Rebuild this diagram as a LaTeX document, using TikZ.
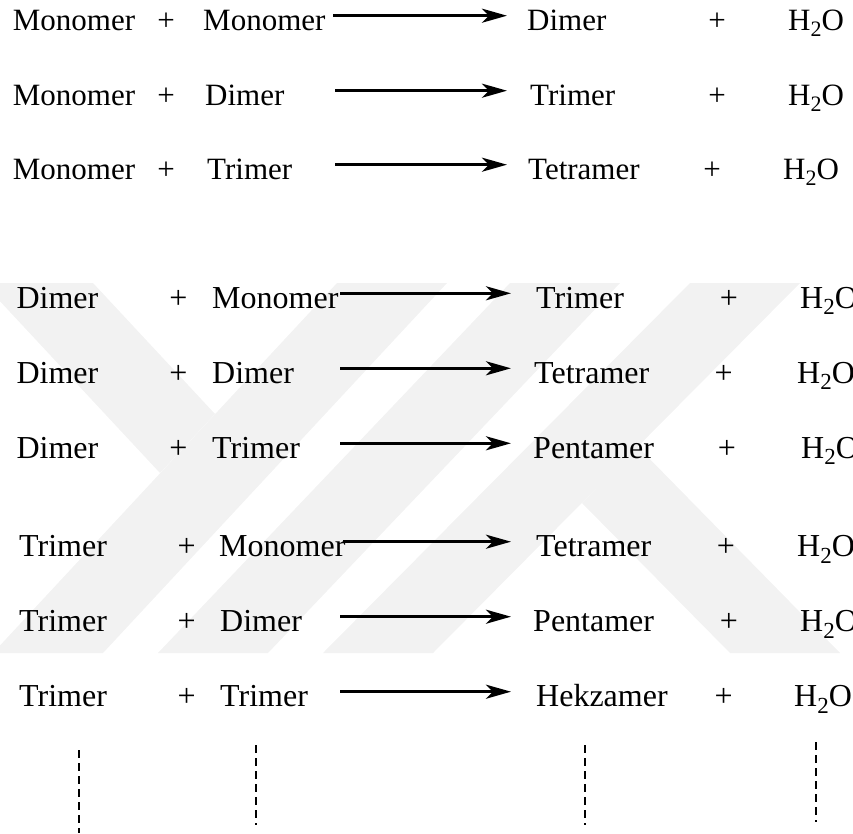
\documentclass[tikz,border=0pt]{standalone}
\usepackage{fontspec}
\setmainfont{Liberation Serif}
\usetikzlibrary{arrows.meta}

% water with a lowered subscript, in the two text sizes
\newcommand\waterTop{H\raisebox{-6pt}{\fontsize{22}{24}\selectfont 2}O}
\newcommand\waterLow{H\raisebox{-6.5pt}{\fontsize{23}{24}\selectfont 2}O}

\tikzset{
  toptext/.style={font=\fontsize{31}{34}\selectfont, inner sep=0pt, anchor=base west},
  lowtext/.style={font=\fontsize{32}{36}\selectfont, inner sep=0pt, anchor=base west},
  plus/.style={anchor=base},
  react/.style={line width=3.2pt, -{Stealth[length=25pt, width=14pt, inset=7pt]}},
  dots/.style={line width=1.6pt, dash pattern=on 8pt off 5pt},
  band/.style={fill=black!5, draw=none},
}

\begin{document}
\begin{tikzpicture}[x=1pt, y=-1pt]
\useasboundingbox (0,0) rectangle (853,834);
\clip (0,0) rectangle (853,834);

% faint background emblem made of slanted bands
\fill[band] (-17,283) -- (93,283) -- (215,414) -- (160,473) -- cycle;
\fill[band] (337,283) -- (447,283) -- (103,653) -- (-7,653) -- cycle;
\fill[band] (510,283) -- (620,283) -- (268,653) -- (158,653) -- cycle;
\fill[band] (690,283) -- (800,283) -- (433,653) -- (323,653) -- cycle;
\fill[band] (582,503) -- (637,446) -- (840,653) -- (730,653) -- cycle;

% first block: monomer additions
\foreach \i/\y/\A/\pa/\bx/\B/\as/\cx/\C/\pb/\wx in {
  1/31/Monomer/166/203/Monomer/333/527/Dimer/717/788,
  2/106/Monomer/166/205/Dimer/335/530/Trimer/717/788,
  3/180/Monomer/166/207/Trimer/335/528/Tetramer/712/783}{
  \node[toptext] (a\i) at (12.7,\y) {\A};
  \node[toptext, plus] (p\i) at (\pa,\y) {+};
  \node[toptext] (b\i) at (\bx,\y) {\B};
  \coordinate (s\i) at (\as,\y-15.3);
  \coordinate (e\i) at (507,\y-15.3);
  \draw[react] (s\i) -- (e\i);
  \node[toptext] (c\i) at (\cx,\y) {\C};
  \node[toptext, plus] (q\i) at (\pb,\y) {+};
  \node[toptext] (w\i) at (\wx,\y) {\waterTop};
}

% dimer and trimer additions
\foreach \i/\y/\ax/\A/\pa/\bx/\B/\as/\cx/\C/\pb/\wx in {
  4/308.3/16.3/Dimer/178.5/212/Monomer/340/536/Trimer/729/800,
  5/383.3/16.3/Dimer/178.5/212/Dimer/340/534/Tetramer/723.6/797,
  6/458.3/16.3/Dimer/178.5/212/Trimer/340/533/Pentamer/727/801,
  7/556.7/19/Trimer/186.6/219/Monomer/343/536/Tetramer/726/797,
  8/631.7/19/Trimer/186.6/220/Dimer/340/533/Pentamer/729/800,
  9/706.7/19/Trimer/186.6/220/Trimer/340/536/Hekzamer/723.6/794}{
  \node[lowtext] (a\i) at (\ax,\y) {\A};
  \node[lowtext, plus] (p\i) at (\pa,\y) {+};
  \node[lowtext] (b\i) at (\bx,\y) {\B};
  \coordinate (s\i) at (\as,\y-15);
  \coordinate (e\i) at (511,\y-15);
  \draw[react] (s\i) -- (e\i);
  \node[lowtext] (c\i) at (\cx,\y) {\C};
  \node[lowtext, plus] (q\i) at (\pb,\y) {+};
  \node[lowtext] (w\i) at (\wx,\y) {\waterLow};
}

% continuation marks under each column
\coordinate (d1t) at (79,750);   \coordinate (d1b) at (79,833);
\coordinate (d2t) at (255.7,745); \coordinate (d2b) at (255.7,825);
\coordinate (d3t) at (585,745);  \coordinate (d3b) at (585,825);
\coordinate (d4t) at (816,742);  \coordinate (d4b) at (816,822);
\foreach \k in {1,2,3,4}{\draw[dots] (d\k t) -- (d\k b);}
\end{tikzpicture}
\end{document}
